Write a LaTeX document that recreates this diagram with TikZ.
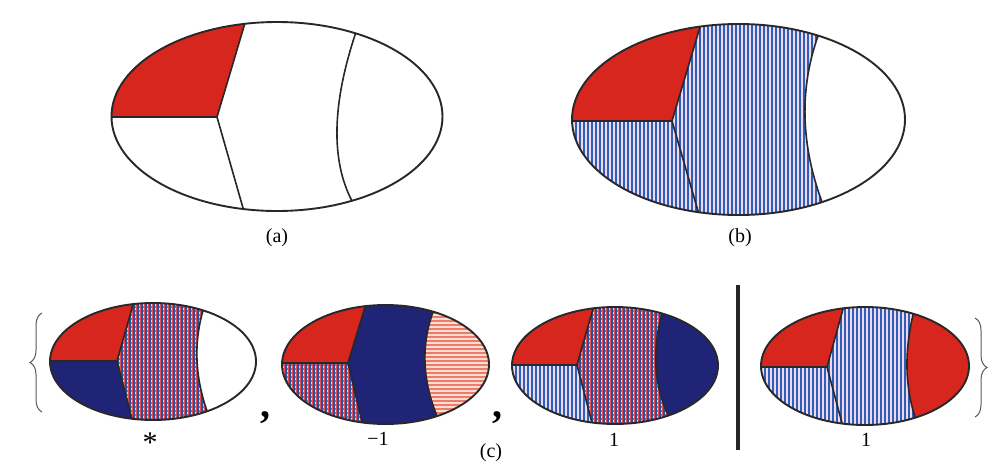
\documentclass[tikz,border=0pt]{standalone}
\usepackage{fontspec}
\setmainfont{Liberation Serif}
\usetikzlibrary{calc,decorations.pathreplacing}
\definecolor{cred}{RGB}{214,38,30}
\definecolor{cnavy}{RGB}{32,36,118}
\definecolor{cblue}{RGB}{45,95,185}
\definecolor{clav}{RGB}{238,216,238}
\definecolor{cpink}{RGB}{246,205,214}
\definecolor{cchk}{RGB}{228,78,88}
\definecolor{cpeach}{RGB}{252,222,208}
\definecolor{csalm}{RGB}{238,122,108}
\definecolor{cline}{RGB}{40,40,40}
\tikzset{
  outline/.style={draw=cline,line width=1.9pt},
  divider/.style={draw=cline,line width=1.6pt},
  lbl/.style={font=\fontsize{20}{24}\selectfont,inner sep=0pt},
  commastyle/.style={font=\fontsize{40}{44}\selectfont\bfseries,inner sep=0pt,anchor=base},
  bracestyle/.style={draw=black!65,line width=1pt,decorate,decoration={brace,amplitude=12pt}},
}
\newcommand\setegg[4]{\def\cx{#1}\def\cy{#2}\def\rx{#3}\def\ry{#4}}
\newcommand\pRed{\fill[cred] (NW) rectangle (SE);}
\newcommand\pNavy{\fill[cnavy] (NW) rectangle (SE);}
\newcommand\pWhite{\fill[white] (NW) rectangle (SE);}
\newcommand\pVert{\fill[clav] (NW) rectangle (SE);
  \foreach \ii in {0,...,92}{\draw[cblue,line width=1.8pt] ($(NW)+(\ii*4,0)$) -- ++(0,2*\ry+24);}}
\newcommand\pCheck{\fill[cpink] (NW) rectangle (SE);
  \foreach \ii in {0,...,40}{\draw[cchk,line width=1.1pt] ($(NW)+(0,\ii*4)$) -- ++(2*\rx+24,0);}
  \foreach \ii in {0,...,60}{\draw[cchk,line width=1pt] ($(NW)+(\ii*4+2,0)$) -- ++(0,2*\ry+24);
                             \draw[cblue!85!black,line width=1.1pt] ($(NW)+(\ii*4,0)$) -- ++(0,2*\ry+24);}}
\newcommand\pHor{\fill[cpeach] (NW) rectangle (SE);
  \foreach \ii in {0,...,40}{\draw[csalm,line width=1.8pt] ($(NW)+(0,\ii*4)$) -- ++(2*\rx+24,0);}}
\newcommand\eggdraw[4]{%
  \coordinate (Tx) at ($(J)!1.15!(T)$);
  \coordinate (Bx) at ($(J)!1.15!(B)$);
  \coordinate (Ca) at ($1.33333*(R2)-0.333333*(R3)$);
  \coordinate (Cb) at ($1.33333*(R2)-0.333333*(R1)$);
  \coordinate (NW) at (\cx-\rx-12,\cy-\ry-12);
  \coordinate (SE) at (\cx+\rx+12,\cy+\ry+12);
  \begin{scope}
    \clip (\cx,\cy) ellipse [x radius=\rx pt, y radius=\ry pt];
    \begin{scope}\clip (NW|-J) -- (J) -- (Tx) -- (Tx|-NW) -- (NW) -- cycle; #1\end{scope}
    \begin{scope}\clip (NW|-J) -- (J) -- (Bx) -- (Bx|-SE) -- (NW|-SE) -- cycle; #2\end{scope}
    \begin{scope}\clip (Tx) -- (J) -- (Bx) -- (Bx|-SE) -- (R3|-SE) -- (R3) .. controls (Cb) and (Ca) .. (R1) -- (R1|-NW) -- (Tx|-NW) -- cycle; #3\end{scope}
    \begin{scope}\clip (R1) .. controls (Ca) and (Cb) .. (R3) -- (R3|-SE) -- (SE) -- (SE|-NW) -- (R1|-NW) -- cycle; #4\end{scope}
    \draw[divider] (NW|-J) -- (J) -- (Tx) (J) -- (Bx) (R1|-NW) -- (R1) .. controls (Ca) and (Cb) .. (R3) -- (R3|-SE);
  \end{scope}
  \draw[outline] (\cx,\cy) ellipse [x radius=\rx pt, y radius=\ry pt];
}
\begin{document}
\begin{tikzpicture}[x=1pt,y=-1pt]
\useasboundingbox (0,0) rectangle (1005,472);
\fill[white] (0,0) rectangle (1005,472);
% (a)
\setegg{277}{116.5}{165.5}{94.5}
\coordinate (J) at (217,117); \coordinate (T) at (245,23); \coordinate (B) at (243,208);
\coordinate (R1) at (356,32); \coordinate (R2) at (337,128); \coordinate (R3) at (352,201);
\eggdraw{\pRed}{\pWhite}{\pWhite}{\pWhite}
% (b)
\setegg{738.5}{119.5}{166.5}{95.5}
\coordinate (J) at (672,121); \coordinate (T) at (700,27); \coordinate (B) at (698,211);
\coordinate (R1) at (818,36); \coordinate (R2) at (805,117); \coordinate (R3) at (822,202);
\eggdraw{\pRed}{\pVert}{\pVert}{\pWhite}
% c1
\setegg{153}{361.5}{103}{58.5}
\coordinate (J) at (117,361); \coordinate (T) at (133,305); \coordinate (B) at (132,419);
\coordinate (R1) at (203,310.5); \coordinate (R2) at (197,360); \coordinate (R3) at (207,411);
\eggdraw{\pRed}{\pNavy}{\pCheck}{\pWhite}
% c2
\setegg{385.5}{364.5}{103.5}{59.5}
\coordinate (J) at (348,363); \coordinate (T) at (365,307); \coordinate (B) at (362,422);
\coordinate (R1) at (433,312); \coordinate (R2) at (425,363); \coordinate (R3) at (437,416);
\eggdraw{\pRed}{\pCheck}{\pNavy}{\pHor}
% c3
\setegg{615}{365.5}{103}{58.5}
\coordinate (J) at (577,365); \coordinate (T) at (593,309); \coordinate (B) at (592,423);
\coordinate (R1) at (662,313.5); \coordinate (R2) at (656,367); \coordinate (R3) at (668,415);
\eggdraw{\pRed}{\pVert}{\pCheck}{\pNavy}
% c4
\setegg{865}{366}{104}{59}
\coordinate (J) at (827,367); \coordinate (T) at (843,309); \coordinate (B) at (842,423);
\coordinate (R1) at (913,315); \coordinate (R2) at (907,368); \coordinate (R3) at (915,417);
\eggdraw{\pRed}{\pVert}{\pVert}{\pRed}
% labels
\node[lbl] (la) at (277,238) {(a)};
\node[lbl] (lb) at (740,238) {(b)};
\node[lbl] (lc) at (491,453) {(c)};
\node[lbl,font=\fontsize{30}{34}\selectfont] (l1) at (150,443) {*};
\node[lbl] (l2) at (378,438.5) {−1};
\node[lbl] (l3) at (614,440) {1};
\node[lbl] (l4) at (866,440) {1};
\node[commastyle] (c1) at (265,417) {,};
\node[commastyle] (c2) at (497,417) {,};
% bar
\coordinate (bart) at (738,285); \coordinate (barb) at (738,450);
\draw[line width=4.5pt,black!85] (bart) -- (barb);
% braces
\coordinate (lbb) at (42,412); \coordinate (lbt) at (42,313);
\draw[bracestyle] (lbb) -- (lbt);
\coordinate (rbt) at (975,318); \coordinate (rbb) at (975,417);
\draw[bracestyle] (rbt) -- (rbb);
\end{tikzpicture}
\end{document}
